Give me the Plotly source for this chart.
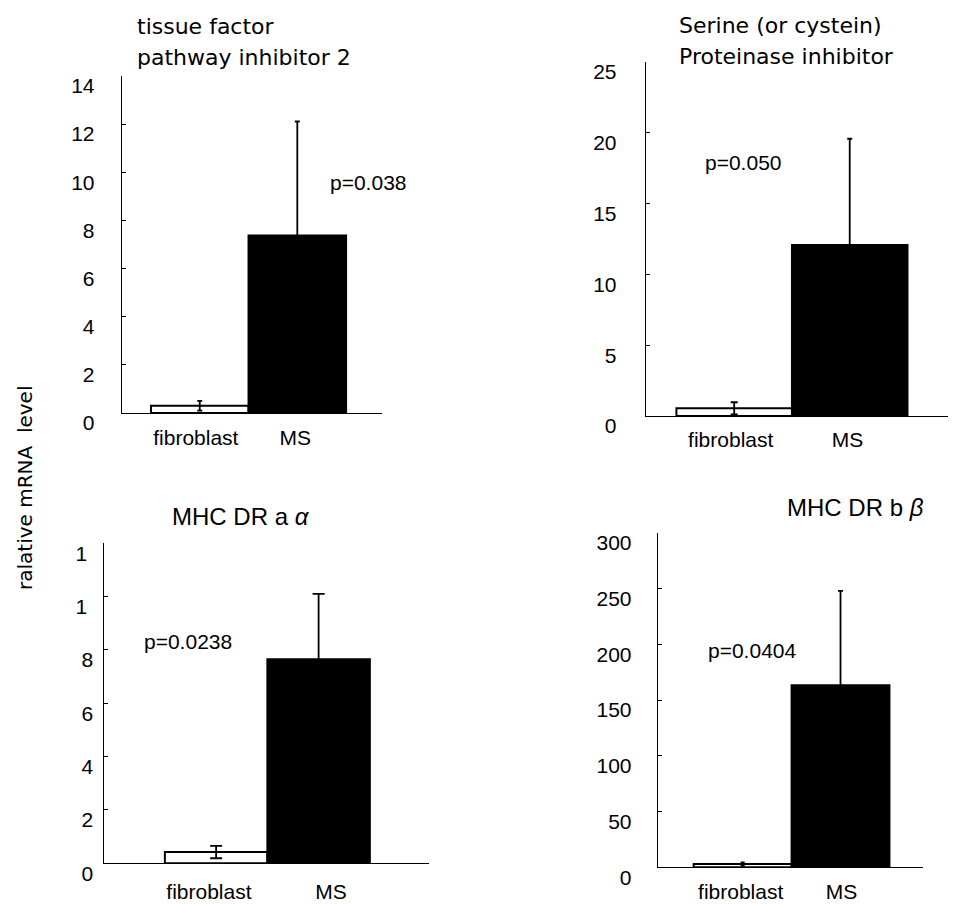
import plotly.graph_objects as go

# The page body adds an 8px margin, so the figure is drawn 8px smaller and
# every target pixel position is measured from the page's top-left corner.
PAGE_W, PAGE_H, OFF = 956, 904, 8
W, H = PAGE_W - OFF, PAGE_H - OFF

# ---------------- data ----------------
categories = ["fibroblast", "MS"]

tfpi2_mean = [0.30, 7.37]
tfpi2_err = [0.20, 4.74]
tfpi2_ticks = [0, 2, 4, 6, 8, 10, 12, 14]
tfpi2_ticktext = ["0", "2", "4", "6", "8", "10", "12", "14"]

serpin_mean = [0.54, 12.08]
serpin_err = [0.43, 7.50]
serpin_ticks = [0, 5, 10, 15, 20, 25]
serpin_ticktext = ["0", "5", "10", "15", "20", "25"]

dra_mean = [0.42, 7.65]
dra_err = [0.23, 2.45]
dra_ticks = [0, 2, 4, 6, 8, 10, 12]
dra_ticktext = ["0", "2", "4", "6", "8", "1\u00a0", "1\u00a0"]

drb_mean = [3.0, 163.3]
drb_err = [1.5, 84.5]
drb_ticks = [0, 50, 100, 150, 200, 250, 300]
drb_ticktext = ["0", "50", "100", "150", "200", "250", "300"]

titles = [
    ["tissue factor", "pathway inhibitor 2"],
    ["Serine (or cystein)", "Proteinase inhibitor"],
    ["MHC DR a <i>α</i>"],
    ["MHC DR b <i>β</i>"],
]
p_values = ["p=0.038", "p=0.050", "p=0.0238", "p=0.0404"]
y_label = "ralative mRNA  level"

# ---------------- layout helpers ----------------
def px(x):
    return (x - OFF) / W


def py(y):
    return 1 - (y - OFF) / H


panels = [
    dict(mean=tfpi2_mean, err=tfpi2_err, ticks=tfpi2_ticks, ticktext=tfpi2_ticktext,
         xdom=(121.7, 381.7), ydom=(413, 76), yr=(0, 14), xr=(-0.80, 1.865),
         label_pos=[-0.04, 0.98], standoff_x=6, standoff_y=22, caps=(2.5, 2.5),
         title_xy=(135, [27, 58]), p_xy=(328, 182)),
    dict(mean=serpin_mean, err=serpin_err, ticks=serpin_ticks, ticktext=serpin_ticktext,
         xdom=(645.7, 956), ydom=(416, 62), yr=(0, 25), xr=(-0.766, 1.92),
         label_pos=[-0.03, 0.98], standoff_x=5, standoff_y=24, caps=(3.5, 2.5),
         title_xy=(677, [25, 56]), p_xy=(703, 162)),
    dict(mean=dra_mean, err=dra_err, ticks=dra_ticks, ticktext=dra_ticktext,
         xdom=(104.3, 429.3), ydom=(863.3, 543.3), yr=(0, 12), xr=(-1.091, 2.08),
         label_pos=[-0.07, 1.12], standoff_x=9, standoff_y=6, caps=(6, 6),
         title_xy=(170, [516]), p_xy=(142, 641)),
    dict(mean=drb_mean, err=drb_err, ticks=drb_ticks, ticktext=drb_ticktext,
         xdom=(657.7, 923.3), ydom=(867.3, 532.7), yr=(0, 300), xr=(-0.868, 1.846),
         label_pos=[-0.02, 1.01], standoff_x=5, standoff_y=21, caps=(2, 2.5),
         title_xy=(785, [507]), p_xy=(706, 650)),
]

NUM_FONT = dict(family="Liberation Sans, Arial, sans-serif", size=21, color="black")
TXT_FONT = dict(family="DejaVu Sans, sans-serif", size=22, color="black")

fig = go.Figure()
layout = dict(
    width=W, height=H,
    margin=dict(l=0, r=0, t=0, b=0, autoexpand=False),
    paper_bgcolor="white", plot_bgcolor="white",
    showlegend=False, barmode="overlay",
)
annotations = []

xpos = list(range(len(categories)))
fills = ["white", "black"]

for i, p in enumerate(panels):
    n = "" if i == 0 else str(i + 1)
    xa, ya = "x" + n, "y" + n
    for j in range(len(categories)):
        fig.add_trace(go.Bar(
            x=[xpos[j]], y=[p["mean"][j]], width=1,
            marker=dict(color=fills[j], line=dict(color="black", width=2)),
            error_y=dict(type="data", array=[p["err"][j]], color="black",
                         thickness=1.8, width=p["caps"][j]),
            xaxis=xa, yaxis=ya, name=categories[j], hoverinfo="skip",
        ))
    layout["xaxis" + n] = dict(
        domain=[px(p["xdom"][0]), min(1.0, px(p["xdom"][1]))], anchor=ya,
        range=list(p["xr"]), showline=True, linecolor="black", linewidth=1.3,
        showgrid=False, zeroline=False, ticks="", automargin=False,
        tickmode="array", tickvals=p["label_pos"], ticktext=categories,
        tickfont=dict(family="Liberation Sans, Arial, sans-serif", size=21, color="black"),
        ticklabelstandoff=p["standoff_x"], fixedrange=True,
    )
    layout["yaxis" + n] = dict(
        domain=[py(p["ydom"][0]), py(p["ydom"][1])], anchor=xa,
        range=list(p["yr"]), showline=True, linecolor="black", linewidth=1,
        showgrid=False, zeroline=False, ticks="inside", ticklen=4, tickwidth=1,
        tickcolor="black", tickmode="array", tickvals=p["ticks"], ticktext=p["ticktext"],
        tickfont=NUM_FONT, ticklabelshift=10, ticklabelstandoff=p["standoff_y"],
        automargin=False, fixedrange=True,
    )
    tx, tys = p["title_xy"]
    for line, ty in zip(titles[i], tys):
        f = TXT_FONT if i < 2 else dict(family="Liberation Sans, Arial, sans-serif", size=24, color="black")
        annotations.append(dict(
            text=line, x=px(tx), y=py(ty), xref="paper", yref="paper",
            xanchor="left", yanchor="middle", showarrow=False, font=f,
        ))
    annotations.append(dict(
        text=p_values[i], x=px(p["p_xy"][0]), y=py(p["p_xy"][1]),
        xref="paper", yref="paper", xanchor="left", yanchor="middle",
        showarrow=False, font=NUM_FONT,
    ))

annotations.append(dict(
    text=y_label, x=px(25), y=py(488), xref="paper", yref="paper",
    xanchor="center", yanchor="middle", textangle=-90, showarrow=False,
    font=dict(family="DejaVu Sans, sans-serif", size=20, color="black"),
))

layout["annotations"] = annotations
fig.update_layout(**layout)
fig.write_html("out.html")
